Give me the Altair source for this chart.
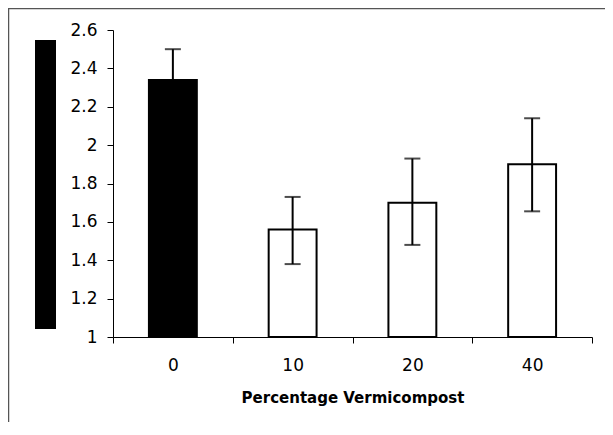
import altair as alt
import pandas as pd

categories = ["0", "10", "20", "40"]
means = [2.34, 1.56, 1.70, 1.90]
err_low = [2.18, 1.38, 1.48, 1.655]
err_high = [2.50, 1.73, 1.93, 2.14]
fills = ["black", "white", "white", "white"]
y_ticks = [1.0, 1.2, 1.4, 1.6, 1.8, 2.0, 2.2, 2.4, 2.6]

df = pd.DataFrame({
    "cat": categories,
    "mean": means,
    "lo": err_low,
    "hi": err_high,
    "fill": fills,
})

FONT = "DejaVu Sans"

x_axis = alt.Axis(
    title="Percentage Vermicompost",
    labelAngle=0,
    tickBand="extent",
    tickSize=6,
    tickColor="black",
    domainColor="black",
    labelFont=FONT,
    labelFontSize=17,
    labelColor="black",
    labelPadding=14,
    titleFont=FONT,
    titleFontSize=15,
    titleFontWeight="bold",
    titleColor="black",
    titlePadding=17,
)
x_scale = alt.Scale(paddingInner=0, paddingOuter=0)

y_axis = alt.Axis(
    title=None,
    values=y_ticks,
    format=".1~f",
    grid=False,
    labelOverlap=False,
    tickSize=6,
    tickColor="black",
    domainColor="black",
    labelFont=FONT,
    labelFontSize=17,
    labelColor="black",
    labelPadding=10,
)
y_scale = alt.Scale(domain=[1, 2.6], zero=False, nice=False)


def xenc():
    return alt.X("cat:N", sort=categories, scale=x_scale, axis=x_axis, title="Percentage Vermicompost")


def yenc(field):
    return alt.Y(field, scale=y_scale, axis=y_axis, title=None)


bars = alt.Chart(df).mark_bar(
    width={"band": 0.4}, stroke="black", strokeWidth=2
).encode(
    x=xenc(),
    y=yenc("mean:Q"),
    y2=alt.datum(1),
    fill=alt.Fill("fill:N", scale=None),
)

rules = alt.Chart(df).mark_rule(color="black", strokeWidth=2).encode(
    x=xenc(),
    y=yenc("lo:Q"),
    y2="hi:Q",
)

caps_hi = alt.Chart(df).mark_tick(color="black", size=16, thickness=2).encode(
    x=xenc(),
    y=yenc("hi:Q"),
)
caps_lo = alt.Chart(df).mark_tick(color="black", size=16, thickness=2).encode(
    x=xenc(),
    y=yenc("lo:Q"),
)

deco = alt.Data(values=[{"k": 1}])
border = alt.Chart(deco).mark_rect(
    fillOpacity=0, stroke="#555555", strokeWidth=1.5
).encode(
    x=alt.value(-104.5), x2=alt.value(900), y=alt.value(-21.5), y2=alt.value(900)
)
block = alt.Chart(deco).mark_rect(color="black").encode(
    x=alt.value(-78), x2=alt.value(-57), y=alt.value(10), y2=alt.value(299)
)

chart = alt.layer(border, block, bars, rules, caps_hi, caps_lo).properties(
    width=479,
    height=307,
    autosize=alt.AutoSizeParams(type="none"),
    padding={"left": 105, "top": 22, "right": 13, "bottom": 85},
).configure_view(stroke=None)

chart.save("out.html", embed_options={"renderer": "svg", "actions": False})
